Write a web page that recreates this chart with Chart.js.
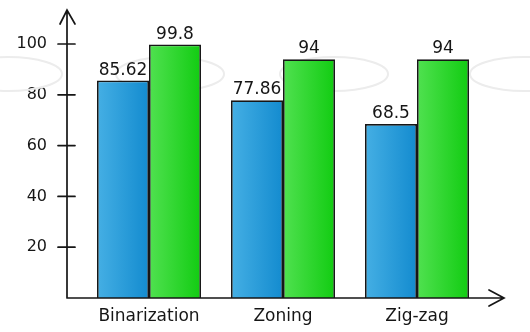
<!DOCTYPE html>
<html>
<head>
<meta charset="utf-8">
<script src="https://cdn.jsdelivr.net/npm/chart.js@4/dist/chart.umd.min.js"></script>
<style>
  html, body { margin: 0; padding: 0; background: #fff; }
</style>
</head>
<body>
<canvas id="chart" width="530" height="332"></canvas>
<script>
const categories = ["Binarization", "Zoning", "Zig-zag"];
const blueValues = [85.62, 77.86, 68.5];
const greenValues = [99.8, 94, 94];
const yTicks = [20, 40, 60, 80, 100];

const ink = "#161616";
Chart.defaults.font.family = "'DejaVu Sans', sans-serif";
Chart.defaults.color = ink;

// faint watermark ovals behind the chart
const backdrop = {
  id: "backdrop",
  beforeDatasetsDraw(chart) {
    const { ctx } = chart;
    ctx.save();
    ctx.strokeStyle = "#ececec";
    ctx.lineWidth = 2;
    [8, 170, 334, 524].forEach((cx) => {
      ctx.beginPath();
      ctx.ellipse(cx, 74, 54, 17, 0, 0, Math.PI * 2);
      ctx.stroke();
    });
    ctx.restore();
  },
};

// bars get a left-to-right gradient, built once positions are known
const gradientBars = {
  id: "gradientBars",
  beforeDatasetsDraw(chart) {
    const { ctx } = chart;
    const stops = [["#45afe4", "#138bcf"], ["#50e150", "#12cc12"]];
    chart.data.datasets.forEach((ds, i) => {
      chart.getDatasetMeta(i).data.forEach((el) => {
        const g = ctx.createLinearGradient(el.x - el.width / 2, 0, el.x + el.width / 2, 0);
        g.addColorStop(0, stops[i][0]);
        g.addColorStop(1, stops[i][1]);
        el.options.backgroundColor = g;
      });
    });
  },
};

// hand-drawn looking axes with arrows
const arrowAxes = {
  id: "arrowAxes",
  afterDatasetsDraw(chart) {
    const { ctx } = chart;
    const y = chart.scales.y;
    const x0 = 67;
    const y0 = y.getPixelForValue(0);
    ctx.save();
    ctx.strokeStyle = ink;
    ctx.lineWidth = 1.7;
    ctx.lineCap = "round";
    ctx.beginPath();
    ctx.moveTo(x0, y0);
    ctx.lineTo(x0, 10);
    ctx.moveTo(60, 24);
    ctx.lineTo(x0, 10);
    ctx.lineTo(75, 24);
    ctx.moveTo(x0, y0);
    ctx.lineTo(504, y0);
    ctx.moveTo(489, y0 - 8);
    ctx.lineTo(504, y0);
    ctx.lineTo(489, y0 + 8);
    yTicks.forEach((v) => {
      const py = y.getPixelForValue(v);
      ctx.moveTo(58, py);
      ctx.lineTo(75, py);
    });
    ctx.stroke();

    // value labels above bars
    ctx.fillStyle = ink;
    ctx.font = "17px 'DejaVu Sans', sans-serif";
    ctx.textAlign = "center";
    ctx.textBaseline = "alphabetic";
    chart.data.datasets.forEach((ds, i) => {
      chart.getDatasetMeta(i).data.forEach((el, j) => {
        ctx.fillText(String(ds.data[j]), el.x, el.y - 6);
      });
    });
    ctx.restore();
  },
};

new Chart(document.getElementById("chart"), {
  type: "bar",
  data: {
    labels: categories,
    datasets: [
      {
        label: "blue",
        data: blueValues,
        backgroundColor: () => "#2a9bd8",
        borderColor: ink,
        borderWidth: 1.7,
      },
      {
        label: "green",
        data: greenValues,
        backgroundColor: () => "#2ad62a",
        borderColor: ink,
        borderWidth: 1.7,
      },
    ],
  },
  options: {
    responsive: false,
    animation: false,
    layout: { padding: { left: 0, top: 44, right: 46, bottom: 0 } },
    plugins: {
      legend: { display: false },
      tooltip: { enabled: false },
    },
    datasets: {
      bar: { barPercentage: 1, categoryPercentage: 0.776 },
    },
    scales: {
      x: {
        grid: { display: false, drawTicks: false },
        border: { display: false },
        ticks: { padding: 8, font: { size: 17 } },
        afterFit: (scale) => { scale.height = 34; scale.paddingLeft = 0; scale.paddingRight = 0; },
      },
      y: {
        min: 0,
        max: 100,
        grid: { display: false, drawTicks: false },
        border: { display: false },
        ticks: { padding: 35, font: { size: 16 } },
        afterBuildTicks: (scale) => { scale.ticks = yTicks.map((v) => ({ value: v })); },
        afterFit: (scale) => { scale.width = 82; scale.paddingTop = 0; scale.paddingBottom = 0; },
      },
    },
  },
  plugins: [backdrop, gradientBars, arrowAxes],
});
</script>
</body>
</html>
